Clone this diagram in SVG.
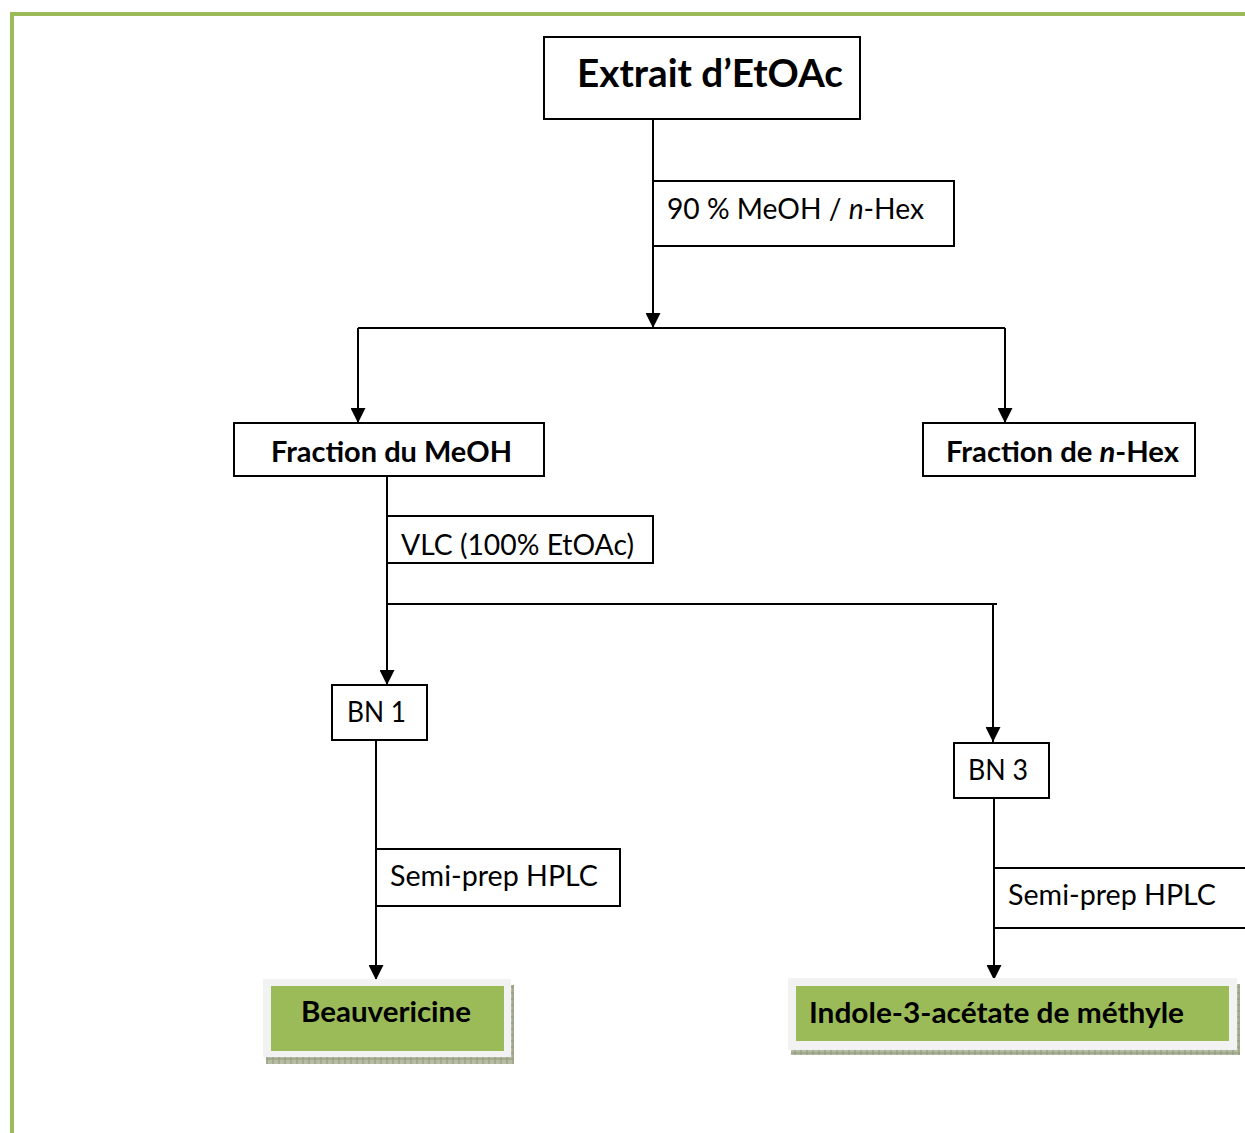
<svg xmlns="http://www.w3.org/2000/svg" width="1245" height="1133" viewBox="0 0 1245 1133">
  <defs>
    <style>
      .box { fill: #ffffff; stroke: #000000; stroke-width: 2; }
      .lbl { font-family: Lato, "Open Sans", sans-serif; font-size: 28px; fill: #000000; }
      .bold { font-weight: bold; }
      .title { font-size: 39px; }
      .wire { fill: none; stroke: #000000; stroke-width: 2; }
      .frame { fill: #f2f2f2; }
      .result { fill: #9bbb59; }
    </style>
    <!-- solid triangular arrowhead, tip at the end of the line -->
    <marker id="arrow" viewBox="0 0 15 15" refX="15" refY="7.5" markerWidth="15" markerHeight="15" markerUnits="userSpaceOnUse" orient="auto">
      <path d="M0,0 L15,7.5 L0,15 Z" fill="#000000"/>
    </marker>
    <pattern id="hatch" width="6" height="6" patternUnits="userSpaceOnUse">
      <rect width="6" height="6" fill="#b5bda5"/>
      <path d="M0,3 H6 M3,0 V6" stroke="#8f9a7a" stroke-width="1"/>
    </pattern>
  </defs>

  <!-- page border -->
  <g id="page-border" fill="#9bbb59">
    <rect x="10" y="12" width="1235" height="4"/>
    <rect x="10" y="12" width="4" height="1121"/>
  </g>

  <!-- connectors -->
  <g id="connectors">
    <path class="wire" d="M653,119 V328" marker-end="url(#arrow)"/>
    <path class="wire" d="M358,328 H1005"/>
    <path class="wire" d="M358,328 V423" marker-end="url(#arrow)"/>
    <path class="wire" d="M1005,328 V423" marker-end="url(#arrow)"/>
    <path class="wire" d="M387,476 V685" marker-end="url(#arrow)"/>
    <path class="wire" d="M387,604 H997"/>
    <path class="wire" d="M993,604 V742" marker-end="url(#arrow)"/>
    <path class="wire" d="M376,740 V980" marker-end="url(#arrow)"/>
    <path class="wire" d="M994,798 V980" marker-end="url(#arrow)"/>
  </g>

  <g id="node-extrait">
    <rect class="box" x="544" y="37" width="316" height="82"/>
    <text class="lbl bold title" x="577" y="87" textLength="266" lengthAdjust="spacingAndGlyphs">Extrait d’EtOAc</text>
  </g>

  <g id="step-partition">
    <rect class="box" x="653" y="181" width="301" height="65"/>
    <text class="lbl" x="667" y="219" textLength="257" lengthAdjust="spacingAndGlyphs">90 % MeOH / <tspan font-style="italic">n</tspan>-Hex</text>
  </g>

  <g id="node-meoh">
    <rect class="box" x="234" y="423" width="310" height="53"/>
    <text class="lbl bold" x="271" y="462" textLength="241" lengthAdjust="spacingAndGlyphs">Fraction du MeOH</text>
  </g>

  <g id="node-hex">
    <rect class="box" x="923" y="423" width="272" height="53"/>
    <text class="lbl bold" x="946" y="462" textLength="233" lengthAdjust="spacingAndGlyphs">Fraction de <tspan font-style="italic">n</tspan>-Hex</text>
  </g>

  <g id="step-vlc">
    <rect class="box" x="387" y="516" width="266" height="47"/>
    <text class="lbl" x="401" y="555" textLength="233" lengthAdjust="spacingAndGlyphs">VLC (100% EtOAc)</text>
  </g>

  <g id="node-bn1">
    <rect class="box" x="332" y="685" width="95" height="55"/>
    <text class="lbl" x="347" y="722" textLength="59" lengthAdjust="spacingAndGlyphs">BN 1</text>
  </g>

  <g id="node-bn3">
    <rect class="box" x="954" y="743" width="95" height="55"/>
    <text class="lbl" x="968" y="780" textLength="60" lengthAdjust="spacingAndGlyphs">BN 3</text>
  </g>

  <g id="step-hplc-left">
    <rect class="box" x="376" y="849" width="244" height="57"/>
    <text class="lbl" x="390" y="886" textLength="208" lengthAdjust="spacingAndGlyphs">Semi-prep HPLC</text>
  </g>

  <g id="step-hplc-right">
    <path class="wire" d="M1247,868 H994 V928 H1247"/>
    <text class="lbl" x="1008" y="905" textLength="208" lengthAdjust="spacingAndGlyphs">Semi-prep HPLC</text>
  </g>

  <g id="node-beauvericine">
    <rect x="266" y="985" width="248" height="79" fill="url(#hatch)"/>
    <rect class="frame" x="263" y="979" width="248" height="78"/>
    <rect class="result" x="271" y="986" width="233" height="65"/>
    <text class="lbl bold" x="301" y="1022" textLength="170" lengthAdjust="spacingAndGlyphs">Beauvericine</text>
  </g>

  <g id="node-indole">
    <rect x="791" y="984" width="449" height="71" fill="url(#hatch)"/>
    <rect class="frame" x="788" y="978" width="449" height="72"/>
    <rect class="result" x="796" y="986" width="433" height="55"/>
    <text class="lbl bold" x="809" y="1023" textLength="375" lengthAdjust="spacingAndGlyphs">Indole-3-acétate de méthyle</text>
  </g>
</svg>
